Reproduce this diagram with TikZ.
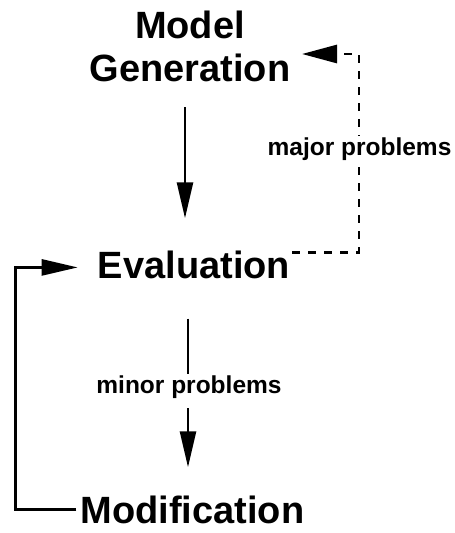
\documentclass[tikz,border=0pt]{standalone}
\usepackage{fontspec}
\setmainfont{Liberation Sans}
\usetikzlibrary{arrows.meta}

\begin{document}
\begin{tikzpicture}[x=1pt,y=-1pt,
  stage/.style={font=\fontsize{38}{43}\selectfont\bfseries, inner sep=0pt, align=center},
  problabel/.style={font=\fontsize{24.5}{26}\selectfont\bfseries, inner sep=1pt, fill=white},
  flow/.style={line width=2.6pt, -{Triangle[length=36pt,width=16pt]}},
  plain/.style={line width=2.6pt},
  back/.style={line width=2.8pt, dash pattern=on 8pt off 8pt,
               -{Triangle[length=35pt,width=18pt]}}
]
\useasboundingbox (0,0) rectangle (455,533);

% stages
\node[stage, anchor=south] (gen) at (190,82) {Model\\Generation};
\node[stage, anchor=base] (eval) at (194,278) {Evaluation};
\node[stage, anchor=base] (mod) at (192.5,523) {Modification};

% Model Generation -> Evaluation
\draw[flow] ([xshift=-5pt,yshift=-25pt]gen.south) -- ([xshift=-9pt,yshift=32pt]eval.north);

% Evaluation -> Modification, interrupted by its label
\node[problabel, anchor=base] (minor) at (189,393) {minor problems};
\draw[plain] ([xshift=-6pt,yshift=-40pt]eval.south) -- ([xshift=-1pt]minor.north);
\draw[flow] ([xshift=-1pt,yshift=-9pt]minor.south) -- ([xshift=-4.5pt,yshift=28pt]mod.north);

% Modification loops back to Evaluation
\draw[flow] ([xshift=-4pt]mod.west) -| ([xshift=-82pt,yshift=-3pt]eval.west)
  -- ([xshift=-20pt,yshift=-3pt]eval.west);

% major problems: dashed return to Model Generation
\coordinate (dtop) at (359,54);
\coordinate (dtip) at (302,54);
\draw[back] ([xshift=2pt,yshift=-2pt]eval.north east) -| (dtop) -- (dtip);
\node[problabel, anchor=base] (major) at (359.5,155) {major problems};
\end{tikzpicture}
\end{document}
